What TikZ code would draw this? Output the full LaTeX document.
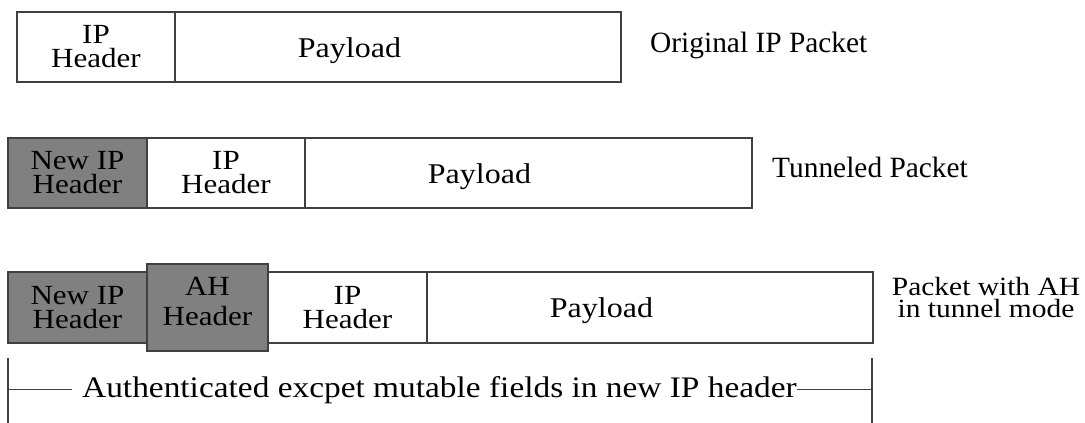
\documentclass[tikz,border=0pt]{standalone}
\usepackage{fontspec}
\setmainfont{Liberation Serif}
\newfontfamily\wideserif{Liberation Serif}[FakeStretch=1.12]
\usepackage{tikz}
\definecolor{hdrgray}{RGB}{128,128,128}
\definecolor{rule}{RGB}{64,64,64}

\begin{document}
\begin{tikzpicture}[x=1pt,y=-1pt,
	cell/.style={draw=rule,line width=1.2pt,anchor=north west,inner sep=0pt,outer sep=0pt,minimum height=70pt,align=center,font=\wideserif\fontsize{27.7}{24}\selectfont,text depth=1pt},
	hdr/.style={cell,fill=hdrgray},
	pay/.style={anchor=base,inner sep=0pt,font=\wideserif\fontsize{28.6}{32}\selectfont},
	tag/.style={inner sep=0pt,align=center,font=\fontsize{29.4}{20}\selectfont},
	bracket/.style={draw=rule,line width=1.2pt}]
	\useasboundingbox (0,0) rectangle (1085,423);

	\node[cell,minimum width=158pt] (iph1) at (17,12) {IP\\Header};
	\node[cell,minimum width=446pt] (pay1) at (175,12) {};
	\node[pay] (payt1) at (349.5,57) {Payload};
	\node[tag,anchor=base west] (orig) at (650,52) {Original IP Packet};

	\node[hdr,minimum width=139pt] (nip2) at (8,138) {New IP\\Header};
	\node[cell,minimum width=158pt] (iph2) at (147,138) {IP\\Header};
	\node[cell,minimum width=447pt] (pay2) at (305,138) {};
	\node[pay] (payt2) at (479.5,183) {Payload};
	\node[tag,anchor=base west] (tun) at (772,177) {Tunneled Packet};

	\node[hdr,minimum width=139pt,minimum height=71pt] (nip3) at (8,272) {New IP\\Header};
	\node[cell,minimum width=159pt,minimum height=71pt] (iph3) at (268,272) {IP\\Header};
	\node[cell,minimum width=446pt,minimum height=71pt] (pay3) at (427,272) {};
	\node[hdr,minimum width=121pt,minimum height=87pt,font=\wideserif\fontsize{27.7}{30}\selectfont,text depth=13pt] (ah) at (147,264) {AH\\Header};
	\node[pay] (payt3) at (601.5,317.5) {Payload};
	\node[tag,font=\wideserif\fontsize{26.3}{22}\selectfont] (ahtun) at (986,298) {Packet with AH\\in tunnel mode};

	\coordinate (ltop) at (8,358);
	\coordinate (lbot) at (8,423);
	\coordinate (rtop) at (872,358);
	\coordinate (rbot) at (872,423);
	\node[anchor=base west,inner sep=0pt,font=\wideserif\fontsize{29.8}{32}\selectfont] (auth) at (82,397) {Authenticated excpet mutable fields in new IP header};
	\draw[bracket] (ltop) -- (lbot) (rtop) -- (rbot);
	\draw[bracket] (auth.west -| ltop) -- ([xshift=-10pt]auth.west);
	\draw[bracket] (auth.east) -- (auth.east -| rtop);
\end{tikzpicture}
\end{document}
